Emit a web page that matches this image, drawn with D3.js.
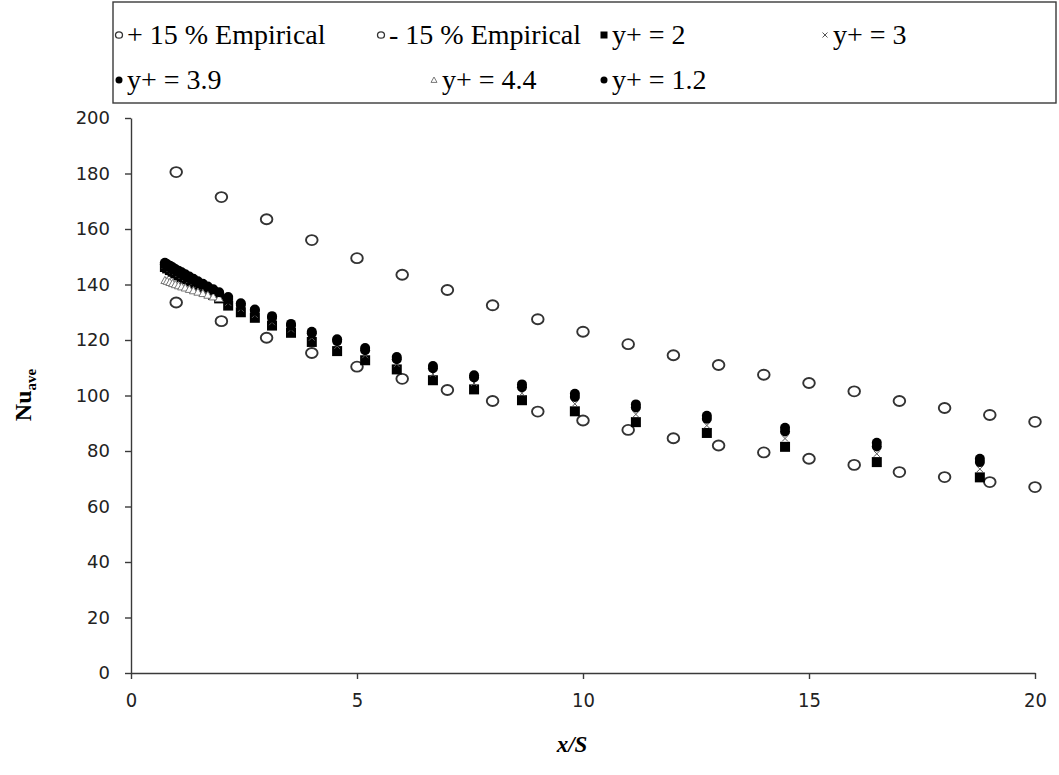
<!DOCTYPE html>
<html>
<head>
<meta charset="utf-8">
<script src="https://cdn.jsdelivr.net/npm/d3@7"></script>
<style>
  body { margin: 0; background: #fff; }
  svg { display: block; }
  .tick text { fill: #222; }
</style>
</head>
<body>
<div id="chart"></div>
<script>
const width = 1059, height = 775;

// empirical correlation +/- 15 %, at x/S = 1..20
const empX = [1, 2, 3, 4, 5, 6, 7, 8, 9, 10, 11, 12, 13, 14, 15, 16, 17, 18, 19, 20];
const empPlus = [180.5, 171.5, 163.5, 156, 149.5, 143.5, 138, 132.5, 127.5, 123,
                 118.5, 114.5, 111, 107.5, 104.5, 101.5, 98, 95.5, 93, 90.5];
const empMinus = [133.5, 126.8, 120.8, 115.3, 110.4, 106, 102, 98, 94.2, 91,
                  87.6, 84.6, 82, 79.5, 77.2, 75, 72.4, 70.6, 68.8, 67];

// CFD stations x/S
const simX = [0.75, 0.8, 0.86, 0.92, 0.98, 1.05, 1.12, 1.2, 1.29, 1.38, 1.48, 1.59, 1.7, 1.82, 1.95,
              2.15, 2.43, 2.74, 3.12, 3.54, 4.0, 4.56, 5.18, 5.88, 6.68, 7.59, 8.65,
              9.82, 11.17, 12.74, 14.47, 16.5, 18.78];
const yp2 = [146.3, 145.8, 145.2, 144.6, 144, 143.3, 142.6, 141.9, 141.1, 140.2, 139.3, 138.3, 137.3, 136.2, 135,
             132.4, 130, 128, 125.2, 122.6, 119.3, 116, 112.7, 109.4, 105.5, 102.2, 98.3,
             94.3, 90.4, 86.5, 81.5, 76, 70.5];
const yp3 = [146.8, 146.3, 145.7, 145.1, 144.5, 143.8, 143.1, 142.4, 141.6, 140.8, 139.9, 138.9, 137.9, 136.9, 135.8,
             133.4, 131.2, 129, 126.4, 123.8, 120.8, 117.8, 114.5, 111.3, 107.8, 104.5, 100.8,
             97, 93.2, 89.2, 84.5, 79, 73.5];
const yp39 = [147.3, 146.8, 146.3, 145.7, 145.1, 144.5, 143.9, 143.2, 142.4, 141.6, 140.7, 139.8, 138.8, 137.8, 136.7,
              134.8, 132.6, 130.5, 128, 125.2, 122.4, 119.6, 116.3, 113.1, 109.8, 106.5, 103,
              99.5, 95.7, 91.6, 87, 81.6, 76];
const yp44X = [0.75, 0.8, 0.86, 0.92, 0.98, 1.05, 1.12, 1.2, 1.29, 1.38, 1.48, 1.59, 1.7, 1.82, 1.95];
const yp44 = [141.5, 141.2, 140.8, 140.4, 140, 139.6, 139.2, 138.8, 138.3, 137.8, 137.3, 136.8, 136.2, 135.6, 135];
const yp12 = [147.8, 147.3, 146.8, 146.2, 145.6, 145, 144.4, 143.7, 142.9, 142.1, 141.2, 140.3, 139.3, 138.3, 137.2,
              135.5, 133.2, 131, 128.6, 125.8, 123, 120.3, 117.1, 113.9, 110.6, 107.3, 104,
              100.6, 96.8, 92.7, 88.4, 83, 77.2];

const xTicks = [0, 5, 10, 15, 20];
const yTicks = [0, 20, 40, 60, 80, 100, 120, 140, 160, 180, 200];

const svg = d3.select("#chart")
    .append("svg")
    .attr("width", width)
    .attr("height", height);

const x = d3.scaleLinear().domain([0, 20]).range([131, 1035]);
const y = d3.scaleLinear().domain([0, 200]).range([673, 118]);

// axes
const yAxis = svg.append("g")
    .attr("transform", "translate(131,0)")
    .call(d3.axisLeft(y).tickValues(yTicks).tickSize(6).tickSizeOuter(0).tickPadding(15));
yAxis.selectAll("text")
    .style("font-family", "'DejaVu Sans', Verdana, sans-serif")
    .style("font-size", "18px");

const xAxis = svg.append("g")
    .attr("transform", "translate(0,673)")
    .call(d3.axisBottom(x).tickValues(xTicks).tickSize(6).tickSizeOuter(0).tickPadding(14));
xAxis.selectAll("text")
    .style("font-family", "'DejaVu Sans Condensed', 'DejaVu Sans', sans-serif")
    .style("font-stretch", "condensed")
    .style("font-size", "20px");

svg.selectAll(".domain, .tick line")
    .attr("stroke", "#3a3a3a")
    .attr("stroke-width", 1.4);

// axis titles
svg.append("text")
    .attr("x", 572)
    .attr("y", 752)
    .attr("text-anchor", "middle")
    .style("font-family", "'Liberation Serif', 'Times New Roman', serif")
    .style("font-weight", "bold")
    .style("font-style", "italic")
    .style("font-size", "23px")
    .text("x/S");

const ylab = svg.append("text")
    .attr("transform", "translate(31,395) rotate(-90)")
    .attr("text-anchor", "middle")
    .style("font-family", "'Liberation Serif', 'Times New Roman', serif")
    .style("font-weight", "bold")
    .style("font-size", "24px");
ylab.append("tspan").text("Nu");
ylab.append("tspan").attr("dy", 5).style("font-size", "15px").text("ave");

// marker drawing helpers
function openCircle(g, px, py, rx, ry, sw) {
  g.append("ellipse").attr("cx", px).attr("cy", py).attr("rx", rx).attr("ry", ry)
    .attr("fill", "none").attr("stroke", "#333").attr("stroke-width", sw);
}
function square(g, px, py, s) {
  g.append("rect").attr("x", px - s / 2).attr("y", py - s / 2).attr("width", s).attr("height", s)
    .attr("fill", "#000");
}
function cross(g, px, py, s) {
  g.append("path")
    .attr("d", `M${px - s},${py - s}L${px + s},${py + s}M${px - s},${py + s}L${px + s},${py - s}`)
    .attr("stroke", "#555").attr("stroke-width", 1);
}
function dot(g, px, py, r) {
  g.append("circle").attr("cx", px).attr("cy", py).attr("r", r).attr("fill", "#000");
}
function tri(g, px, py, s) {
  g.append("path")
    .attr("d", `M${px},${py - s}L${px + s},${py + s * 0.8}L${px - s},${py + s * 0.8}Z`)
    .attr("fill", "#fff").attr("stroke", "#777").attr("stroke-width", 1);
}

const plot = svg.append("g");
empX.forEach((v, i) => openCircle(plot, x(v), y(empPlus[i]), 5.8, 5, 1.9));
empX.forEach((v, i) => openCircle(plot, x(v), y(empMinus[i]), 5.8, 5, 1.9));
simX.forEach((v, i) => square(plot, x(v), y(yp2[i]), 10));
simX.forEach((v, i) => cross(plot, x(v), y(yp3[i]), 3));
simX.forEach((v, i) => dot(plot, x(v), y(yp39[i]), 5));
yp44X.forEach((v, i) => tri(plot, x(v), y(yp44[i]), 4));
simX.forEach((v, i) => dot(plot, x(v), y(yp12[i]), 5));

// legend
const legend = svg.append("g");
legend.append("rect")
    .attr("x", 113).attr("y", 2).attr("width", 943).attr("height", 101)
    .attr("fill", "#fff").attr("stroke", "#3a3a3a").attr("stroke-width", 1.4);

const legendItems = [
  { label: "+ 15 % Empirical", kind: "open", mx: 119, row: 0 },
  { label: "- 15 % Empirical", kind: "open", mx: 381, row: 0 },
  { label: "y+ = 2", kind: "square", mx: 604, row: 0 },
  { label: "y+ = 3", kind: "cross", mx: 825, row: 0 },
  { label: "y+ = 3.9", kind: "dot", mx: 119, row: 1 },
  { label: "y+ = 4.4", kind: "tri", mx: 434, row: 1 },
  { label: "y+ = 1.2", kind: "dot", mx: 604, row: 1 }
];
const rowY = [35, 80];
legendItems.forEach(d => {
  const cy = rowY[d.row];
  if (d.kind === "open") openCircle(legend, d.mx, cy, 3.5, 3.2, 1.3);
  if (d.kind === "square") square(legend, d.mx, cy, 7);
  if (d.kind === "cross") cross(legend, d.mx, cy, 2.5);
  if (d.kind === "dot") dot(legend, d.mx, cy, 3.5);
  if (d.kind === "tri") tri(legend, d.mx, cy, 3);
  legend.append("text")
      .attr("x", d.mx + 8)
      .attr("y", cy + 9)
      .style("font-family", "'Liberation Serif', 'Times New Roman', serif")
      .style("font-size", "28px")
      .text(d.label);
});
</script>
</body>
</html>
